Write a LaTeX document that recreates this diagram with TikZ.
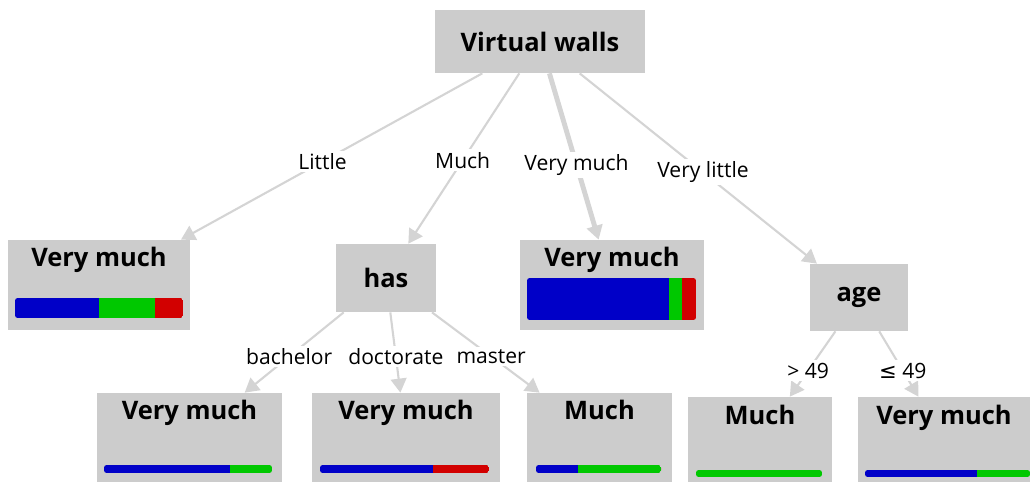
\documentclass[tikz,border=0pt]{standalone}
\usepackage{fontspec}
\setmainfont{Open Sans}
\newfontfamily\symfont{DejaVu Sans}
\usetikzlibrary{arrows.meta,positioning}

\definecolor{boxgray}{RGB}{204,204,204}
\definecolor{edgegray}{RGB}{212,212,212}
\definecolor{barblue}{RGB}{0,0,200}
\definecolor{bargreen}{RGB}{0,200,0}
\definecolor{barred}{RGB}{210,0,0}

\tikzset{
	splitnode/.style={fill=boxgray, inner sep=0pt, font=\bfseries\fontsize{14.5}{17}\selectfont},
	leafnode/.style={fill=boxgray, inner sep=0pt},
	leaftext/.style={anchor=base, inner sep=0pt, font=\bfseries\fontsize{14.5}{17}\selectfont},
	branch/.style={draw=edgegray, line width=1.2pt, -{Triangle[width=9pt,length=8pt]}},
	branchlabel/.style={fill=white, inner sep=1.5pt, font=\fontsize{12}{14}\selectfont},
}

% x0, y0, x1, y1, end of blue, end of green
\newcommand{\distbar}[6]{%
	\begin{scope}
		\clip[rounded corners=1.5pt] (#1,#2) rectangle (#3,#4);
		\fill[barblue] (#1,#2) rectangle (#5,#4);
		\fill[bargreen] (#5,#2) rectangle (#6,#4);
		\fill[barred] (#6,#2) rectangle (#3,#4);
	\end{scope}}

\begin{document}
\begin{tikzpicture}[x=0.02cm, y=-0.02cm]
		%%%%% START %%%%%
		\useasboundingbox (0,0) rectangle (1030,486);
		
		\node[splitnode, minimum width=4.2cm, minimum height=1.26cm] (walls) at (540,41.5) {Virtual walls};
		
		\node[leafnode, minimum width=3.64cm, minimum height=1.8cm] (little) at (99,285) {};
		\node[splitnode, minimum width=2cm, minimum height=1.36cm] (has) at (386,278) {has};
		\node[leafnode, minimum width=3.68cm, minimum height=1.8cm] (verymuch) at (612,285) {};
		\node[splitnode, minimum width=1.96cm, minimum height=1.34cm] (age) at (859,297.5) {age};
		
		\node[leafnode, minimum width=3.7cm, minimum height=1.78cm] (bachelor) at (189.5,437.5) {};
		\node[leafnode, minimum width=3.76cm, minimum height=1.78cm] (doctorate) at (406,437.5) {};
		\node[leafnode, minimum width=2.9cm, minimum height=1.78cm] (master) at (599.5,437.5) {};
		\node[leafnode, minimum width=2.88cm, minimum height=1.7cm] (old) at (760,439.5) {};
		\node[leafnode, minimum width=3.44cm, minimum height=1.7cm] (young) at (944,439.5) {};
		
		% leaf texts
		\node[leaftext] (littletext) at ([yshift=-0.54cm]little.north) {Very much};
		\node[leaftext] (verymuchtext) at ([yshift=-0.54cm]verymuch.north) {Very much};
		\node[leaftext] (bachelortext) at ([yshift=-0.54cm]bachelor.north) {Very much};
		\node[leaftext] (doctoratetext) at ([yshift=-0.54cm]doctorate.north) {Very much};
		\node[leaftext] (mastertext) at ([yshift=-0.54cm]master.north) {Much};
		\node[leaftext] (oldtext) at ([yshift=-0.56cm]old.north) {Much};
		\node[leaftext] (youngtext) at ([yshift=-0.56cm]young.north) {Very much};
		
		% class distributions
		\distbar{15}{298}{183}{318}{99}{155}
		\distbar{527}{278}{696}{320}{669}{682}
		\distbar{104}{465}{272}{473}{230}{272}
		\distbar{320}{465}{489}{473}{433}{433}
		\distbar{536}{465}{661}{473}{578}{661}
		\distbar{696}{470}{822}{477}{696}{822}
		\distbar{865}{470}{1030}{477}{977}{1030}
		
		% branches
		\draw[branch] (walls) -- node[branchlabel, pos=0.53] {Little} (little);
		\draw[branch] (walls) -- node[branchlabel, pos=0.51] {Much} (has);
		\draw[branch, line width=2.8pt] (walls) -- node[branchlabel, pos=0.55] {Very much} (verymuch);
		\draw[branch] (walls) -- node[branchlabel, pos=0.52] {Very little} (age);
		
		\draw[branch] (has) -- node[branchlabel, pos=0.55] {bachelor} (bachelor);
		\draw[branch] (has) -- node[branchlabel, pos=0.55] {doctorate} (doctorate);
		\draw[branch] (has) -- node[branchlabel, pos=0.55] {master} (master);
		
		\draw[branch] (age) -- node[branchlabel, pos=0.6] {> 49} (old);
		\draw[branch] (age) -- node[branchlabel, pos=0.6] {{\symfont ≤} 49} (young);
		
		%%%%% END %%%%%
\end{tikzpicture}
\end{document}
